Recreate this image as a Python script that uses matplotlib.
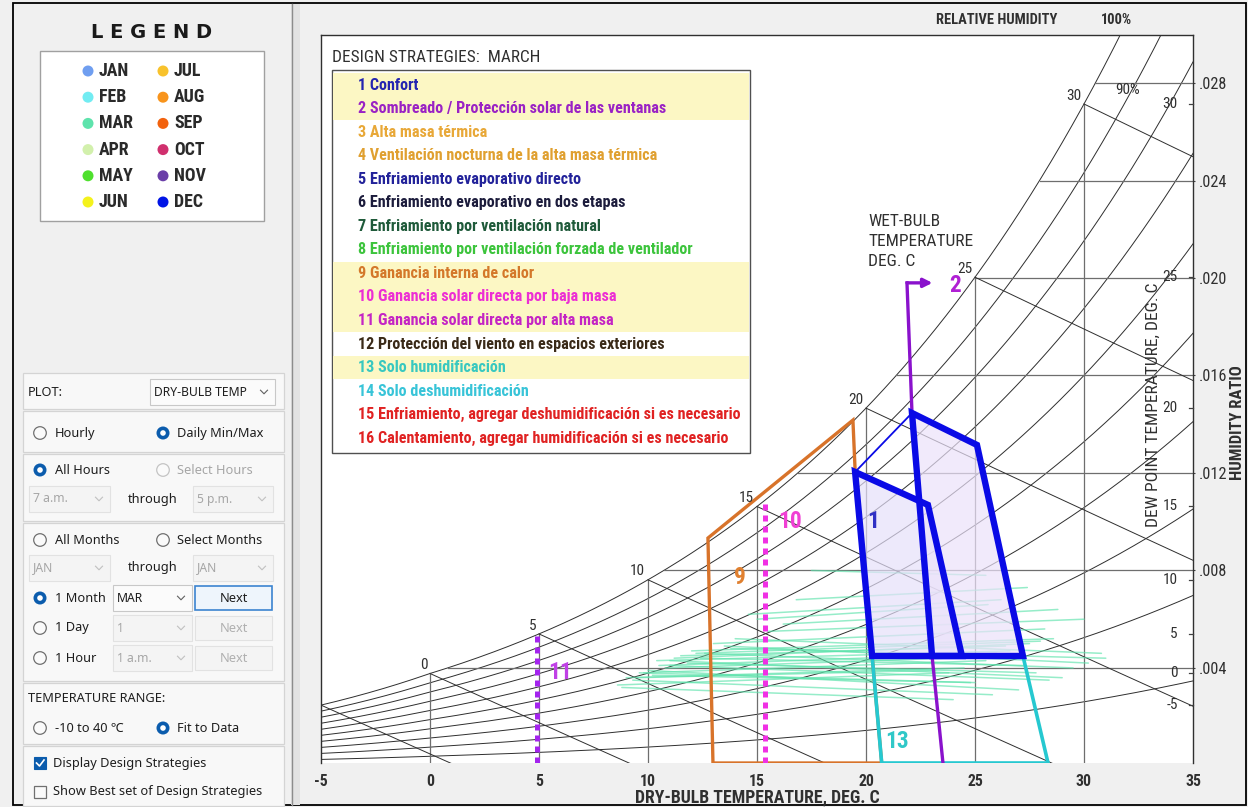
import numpy as np
import matplotlib
matplotlib.use('Agg')
import matplotlib.pyplot as plt
from matplotlib import font_manager
from matplotlib.patches import Rectangle, Circle

# ---------------- data ----------------
months = ['JAN', 'FEB', 'MAR', 'APR', 'MAY', 'JUN', 'JUL', 'AUG', 'SEP', 'OCT', 'NOV', 'DEC']
month_colors = ['#6f9ef0', '#72ecf2', '#5ee3ac', '#d2f0ac', '#4fe02e', '#f4f21c',
                '#f8c22c', '#f8941c', '#f2620e', '#d0306e', '#6a3ea8', '#0014e6']

temp_ticks = [-5, 0, 5, 10, 15, 20, 25, 30, 35]
w_ticks = [0.004, 0.008, 0.012, 0.016, 0.020, 0.024, 0.028]
w_tick_labels = ['.004', '.008', '.012', '.016', '.020', '.024', '.028']
rh_levels = [0.1, 0.2, 0.3, 0.4, 0.5, 0.6, 0.7, 0.8, 0.9, 1.0]
wb_levels = [-5, 0, 5, 10, 15, 20, 25, 30]
wb_labelled = [0, 5, 10, 15, 20, 25, 30]
dp_levels = [-5, 0, 5, 10, 15, 20, 25, 30]
db_grid = [0, 5, 10, 15, 20, 25, 30]

# March daily min / max points (dry bulb deg C, humidity ratio)
mar_tmin = [10.5, 11.2, 9.0, 8.6, 9.8, 12.0, 13.5, 11.0, 10.0, 9.3, 8.8, 10.8, 12.6, 14.0, 13.0,
            11.5, 10.2, 9.5, 11.8, 13.8, 15.5, 16.2, 14.6, 16.8, 17.5, 15.0, 12.4, 11.0, 9.6, 10.4, 12.2]
mar_tmax = [26.0, 27.5, 24.5, 23.8, 25.5, 28.6, 30.2, 29.0, 27.0, 25.8, 24.0, 26.8, 29.5, 30.8, 28.2,
            26.4, 25.0, 23.2, 27.8, 31.0, 30.0, 28.8, 26.2, 27.4, 25.5, 25.6, 27.2, 28.4, 24.8, 26.6, 28.0]
mar_wmin = [0.0041, 0.0044, 0.0036, 0.0033, 0.0038, 0.0047, 0.0049, 0.0043, 0.0039, 0.0035, 0.0032,
            0.0040, 0.0046, 0.0052, 0.0050, 0.0045, 0.0037, 0.0036, 0.0042, 0.0048, 0.0055, 0.0058,
            0.0062, 0.0068, 0.0080, 0.0060, 0.0044, 0.0041, 0.0038, 0.0043, 0.0046]
mar_wmax = [0.0046, 0.0050, 0.0040, 0.0038, 0.0043, 0.0052, 0.0042, 0.0036, 0.0031, 0.0029, 0.0027,
            0.0045, 0.0040, 0.0046, 0.0056, 0.0049, 0.0034, 0.0039, 0.0038, 0.0044, 0.0060, 0.0064,
            0.0068, 0.0073, 0.0078, 0.0066, 0.0041, 0.0035, 0.0034, 0.0047, 0.0051]

# design strategy zones (dry bulb deg C, humidity ratio)
comfort_a_t = [19.50, 22.84, 24.40, 20.28]
comfort_a_w = [0.01204, 0.01069, 0.00449, 0.00449]
comfort_b_t = [22.11, 25.09, 27.20, 23.03]
comfort_b_w = [0.01446, 0.01315, 0.00449, 0.00449]
humid_t = [20.28, 20.72, 28.35, 27.20]
humid_w = [0.00449, 0.0001, 0.0001, 0.00449]
heat_t = [12.98, 12.75, 19.40, 19.50, 20.28, 20.72]
heat_w = [0.0001, 0.00933, 0.01417, 0.01212, 0.00449, 0.0001]
shade_t = [23.53, 23.03, 22.11, 21.88]
shade_w = [0.0001, 0.00449, 0.01446, 0.0198]
shade_arrow_t = [21.88, 23.05]
solar_low_t = 15.37
solar_high_t = 4.9

strategy_names = [
    'Confort',
    'Sombreado / Protección solar de las ventanas',
    'Alta masa térmica',
    'Ventilación nocturna de la alta masa térmica',
    'Enfriamiento evaporativo directo',
    'Enfriamiento evaporativo en dos etapas',
    'Enfriamiento por ventilación natural',
    'Enfriamiento por ventilación forzada de ventilador',
    'Ganancia interna de calor',
    'Ganancia solar directa por baja masa',
    'Ganancia solar directa por alta masa',
    'Protección del viento en espacios exteriores',
    'Solo humidificación',
    'Solo deshumidificación',
    'Enfriamiento, agregar deshumidificación si es necesario',
    'Calentamiento, agregar humidificación si es necesario',
]
strategy_colors = ['#2525b0', '#9a22c4', '#e8a838', '#e0a030', '#22229a', '#1c1c3c',
                   '#1f5a3a', '#3cc43c', '#d4782a', '#ec2ed4', '#c424c4', '#3a2a18',
                   '#38c8c0', '#38c4d8', '#e02222', '#e02222']
strategy_active = [1, 2, 9, 10, 11, 13]

# ---------------- fonts ----------------
ttf = font_manager.fontManager.ttflist
names = {f.name for f in ttf}


def pick_narrow():
    for nm in ['Liberation Sans Narrow', 'Arial Narrow', 'Roboto Condensed', 'Open Sans Condensed',
               'DejaVu Sans Condensed', 'Noto Sans Condensed']:
        if nm in names:
            return nm, 'normal'
    for f in ttf:
        if f.name == 'DejaVu Sans' and 'condensed' in str(f.stretch).lower():
            return 'DejaVu Sans', 'condensed'
    for nm in ['Roboto', 'Liberation Sans', 'DejaVu Sans']:
        if nm in names:
            return nm, 'normal'
    return 'DejaVu Sans', 'normal'


NARROW, NSTRETCH = pick_narrow()
UIF = 'Noto Sans' if 'Noto Sans' in names else 'DejaVu Sans'

# ---------------- psychrometrics ----------------
P_ATM = 101325.0


def pws(t):
    t = np.asarray(t, float)
    water = 610.94 * np.exp(17.625 * t / (t + 243.04))
    ice = 611.15 * np.exp(22.452 * t / (272.55 + t))
    return np.where(t < 0, ice, water)


def w_rh(t, rh):
    p = rh * pws(t)
    return 0.621945 * p / (P_ATM - p)


def t_sat(w):
    ts = np.linspace(-10, 45, 6001)
    return np.interp(w, w_rh(ts, 1.0), ts)


def w_wb(t, twb):
    ws = w_rh(twb, 1.0)
    return ((2501 - 2.326 * twb) * ws - 1.006 * (t - twb)) / (2501 + 1.86 * t - 4.186 * twb)


# ---------------- figure ----------------
WPX, HPX = 1248, 807
fig = plt.figure(figsize=(WPX / 100, HPX / 100), dpi=100)
fig.patch.set_facecolor('#f0f0f0')
renderer = fig.canvas.get_renderer()


def fit(s, target, weight='normal', family=None, stretch=None, base=10.0):
    family = family or NARROW
    stretch = stretch or (NSTRETCH if family == NARROW else 'normal')
    t = fig.text(0, 0, s, fontsize=base, family=family, fontweight=weight, fontstretch=stretch)
    w = t.get_window_extent(renderer).width
    t.remove()
    return base * target / w


def NT(weight='normal', size=9.0, **kw):
    d = dict(family=NARROW, fontstretch=NSTRETCH, fontweight=weight, fontsize=size)
    d.update(kw)
    return d


S_STRAT = min(fit('2 Sombreado / Protección solar de las ventanas', 317, 'bold'),
              fit('15 Enfriamiento, agregar deshumidificación si es necesario', 385, 'bold'))
S_TICK = fit('10', 16, 'bold')
S_YTICK = fit('.028', 28)
S_SMALL = fit('30', 15)
S_XLAB = fit('DRY-BULB TEMPERATURE, DEG. C', 246)
S_RH = fit('RELATIVE HUMIDITY', 121, 'bold')
S_DP = fit('DEW POINT TEMPERATURE, DEG. C', 245)
S_HR = fit('HUMIDITY RATIO', 115, 'bold')
S_WB = fit('TEMPERATURE', 105)
S_DS = fit('DESIGN STRATEGIES:  MARCH', 208)
S_ZONE = fit('13', 24, 'bold')
S_MON = fit('JAN', 30, 'bold')
S_UI = fit('Show Best set of Design Strategies', 208, family=UIF)
S_LEG = fit('L E G E N D', 122, 'bold', family='DejaVu Sans')

ui = fig.add_axes([0, 0, 1, 1], zorder=0)
ui.set_xlim(0, WPX)
ui.set_ylim(HPX, 0)
ui.axis('off')

L, R, T, B = 321, 1193, 35, 763
ax = fig.add_axes([L / WPX, 1 - B / HPX, (R - L) / WPX, (B - T) / HPX], zorder=1)
ax.set_xlim(-5, 35)
ax.set_ylim(0.0001, 0.02997)
ax.set_facecolor('white')

fg = fig.add_axes([0, 0, 1, 1], zorder=2)
fg.set_xlim(0, WPX)
fg.set_ylim(HPX, 0)
fg.axis('off')
fg.patch.set_alpha(0)

# ---------- chart grid ----------
GRID = '#6e6e6e'
CURV = '#2e2e2e'
LBL = '#303030'
tt = np.linspace(-5, 35, 500)
for rh in rh_levels:
    ax.plot(tt, w_rh(tt, rh), color=CURV, lw=0.7, zorder=1)
for t0 in db_grid:
    ax.plot([t0, t0], [0, float(w_rh(t0, 1.0))], color=GRID, lw=0.9, zorder=1)
for w0 in w_ticks:
    ax.plot([float(t_sat(w0)), 35], [w0, w0], color=GRID, lw=0.9, zorder=1)
for twb in wb_levels:
    t = np.linspace(twb, 35, 400)
    w = w_wb(t, twb)
    ws = float(w_rh(twb, 1.0))
    tz = twb + (2501 - 2.326 * twb) * ws / 1.006
    m = w >= 0
    tl = list(t[m]) + ([tz] if tz < 35 else [])
    wl = list(w[m]) + ([0.0] if tz < 35 else [])
    ax.plot(tl, wl, color=CURV, lw=0.7, zorder=1)
    if twb in wb_labelled:
        ax.annotate(str(twb), (twb, ws), xytext=(-2, 1), textcoords='offset points',
                    ha='right', va='bottom', color=LBL, zorder=6, **NT(size=S_SMALL))

ax.text(32.0, 0.0277, '90%', color=LBL, ha='center', va='center', zorder=6, **NT(size=S_SMALL))

# dew point ticks on right spine
for td in dp_levels:
    wd = float(w_rh(td, 1.0))
    ax.plot([34.8, 35], [wd, wd], color='#404040', lw=0.9, zorder=6, clip_on=False)
    ax.text(34.3, wd, str(td), color=LBL, ha='right', va='center', zorder=6, **NT(size=S_SMALL))

# spines & ticks
ax.spines['bottom'].set_visible(False)
for s in ['left', 'top', 'right']:
    ax.spines[s].set_color('#303030')
    ax.spines[s].set_linewidth(1.0)
ax.set_xticks(temp_ticks)
ax.set_xticklabels([str(v) for v in temp_ticks], color=LBL, **NT('bold', S_TICK))
ax.tick_params(axis='x', length=0, pad=8)
ax.yaxis.tick_right()
ax.set_yticks(w_ticks)
ax.set_yticklabels(w_tick_labels, color=LBL, **NT(size=S_YTICK))
ax.tick_params(axis='y', length=1.5, pad=2.5, color='#404040')

# ---------- March data ----------
for a, b, c, d in zip(mar_tmin, mar_tmax, mar_wmin, mar_wmax):
    ax.plot([a, b], [c, d], color=month_colors[2], lw=1.1, alpha=0.65, zorder=2,
            solid_capstyle='round')

# ---------- design strategies ----------
BLUE = '#0a0ae6'
ax.fill(comfort_a_t, comfort_a_w, color='#e6e0fa', alpha=0.7, lw=0, zorder=3)
ax.fill(comfort_b_t, comfort_b_w, color='#ece2fa', alpha=0.7, lw=0, zorder=3)

ax.fill(heat_t, heat_w, fill=False, edgecolor='#d8732a', lw=2.4, zorder=4, joinstyle='miter')
ax.plot([solar_low_t, solar_low_t], [0.0001, float(w_rh(solar_low_t, 1.0))], color='#f030e4',
        lw=3.6, ls=(0, (1.2, 1.0)), dash_capstyle='butt', zorder=4)
ax.plot([solar_high_t, solar_high_t], [0.0001, float(w_rh(solar_high_t, 1.0))], color='#a424ee',
        lw=3.6, ls=(0, (1.2, 1.0)), dash_capstyle='butt', zorder=4)
ax.fill(humid_t, humid_w, fill=False, edgecolor='#26c8d0', lw=2.6, zorder=4)
ax.plot(shade_t, shade_w, color='#8a12cc', lw=2.4, zorder=4.5)
ax.annotate('', xy=(shade_arrow_t[1], shade_w[-1]), xytext=(shade_arrow_t[0], shade_w[-1]),
            arrowprops=dict(arrowstyle='-|>', color='#8a12cc', lw=2.4, mutation_scale=13,
                            shrinkA=0, shrinkB=0), zorder=4.5)

ax.plot([comfort_a_t[0], comfort_b_t[0]], [comfort_a_w[0], comfort_b_w[0]], color=BLUE, lw=1.3, zorder=5)
ax.fill(comfort_a_t, comfort_a_w, fill=False, edgecolor=BLUE, lw=4.6, zorder=5, joinstyle='miter')
ax.fill(comfort_b_t, comfort_b_w, fill=False, edgecolor=BLUE, lw=4.6, zorder=5, joinstyle='miter')

zone_labels = [('1', 20.32, 0.0100, '#3030c4'), ('2', 24.1, 0.0197, '#b020d4'),
               ('9', 14.22, 0.0077, '#e08030'), ('10', 16.51, 0.0100, '#f040d4'),
               ('11', 5.96, 0.0038, '#c040e6'), ('13', 21.42, 0.00097, '#30c8c8')]
for s, x, y, c in zone_labels:
    ax.text(x, y, s, color=c, ha='center', va='center', zorder=6, **NT('bold', S_ZONE))

# ---------- chart texts (figure pixels) ----------
fg.text(997, 20, 'RELATIVE HUMIDITY', color=LBL, ha='center', va='center', **NT('bold', S_RH))
fg.text(1117, 20, '100%', color=LBL, ha='center', va='center', **NT('bold', S_RH))
for i, s in enumerate(['WET-BULB', 'TEMPERATURE', 'DEG. C']):
    fg.text(868, 222 + i * 20, s, color=LBL, ha='left', va='center', **NT(size=S_WB))
fg.text(757, 797, 'DRY-BULB TEMPERATURE, DEG. C', color=LBL, ha='center', va='center',
        **NT('bold', S_XLAB * 0.97))
fg.text(1153, 405, 'DEW POINT TEMPERATURE, DEG. C', color=LBL, ha='center', va='center',
        rotation=90, **NT(size=S_DP))
fg.text(1237, 423, 'HUMIDITY RATIO', color=LBL, ha='center', va='center', rotation=90,
        **NT('bold', S_HR))

# design strategies box
fg.text(332, 57, 'DESIGN STRATEGIES:  MARCH', color=LBL, ha='left', va='center', **NT(size=S_DS))
fg.add_patch(Rectangle((332, 70), 418, 383, fc='white', ec='#505050', lw=1.0))
row0, rowh = 85, 23.55
for i, (name, col) in enumerate(zip(strategy_names, strategy_colors), start=1):
    yc = row0 + (i - 1) * rowh
    if i in strategy_active:
        fg.add_patch(Rectangle((333, yc - rowh / 2), 416, rowh, fc='#fcf7c4', ec='none'))
    fg.text(358, yc, f'{i} {name}', color=col, ha='left', va='center', **NT('bold', S_STRAT))

# ---------- left UI panel ----------
ui.add_patch(Rectangle((13, 3), 1233, 802, fc='none', ec='black', lw=1.3))
ui.add_patch(Rectangle((291, 4), 9, 801, fc='#e2e2e2', ec='none'))
ui.plot([292, 292], [4, 805], color='#8c8c8c', lw=1.0)

ui.text(152, 33, 'L E G E N D', family='DejaVu Sans', fontsize=S_LEG, fontweight='bold',
        color='#1a1a1a', ha='center', va='center')
ui.add_patch(Rectangle((40, 51), 224, 170, fc='white', ec='#a0a0a0', lw=1.0))
for k, (m, c) in enumerate(zip(months, month_colors)):
    col, row = divmod(k, 6)
    x0 = 88 + col * 75
    y0 = 71 + row * 26.2
    ui.add_patch(Circle((x0, y0), 5.5, fc=c, ec='none'))
    ui.text(x0 + 11, y0, m, color='#2a2a2a', ha='left', va='center', **NT('bold', S_MON))


def txt(x, y, s, enabled=True, size=None):
    ui.text(x, y, s, family=[UIF, 'DejaVu Sans'], fontsize=size or S_UI,
            color='#1e1e1e' if enabled else '#a6a6a6', ha='left', va='center')


def radio(x, y, on, enabled=True):
    if on:
        ui.add_patch(Circle((x, y), 6.5, fc='#0b5cad', ec='none'))
        ui.add_patch(Circle((x, y), 2.8, fc='white', ec='none'))
    else:
        ui.add_patch(Circle((x, y), 6.3, fc='#fafafa', ec='#707070' if enabled else '#c4c4c4', lw=0.9))


def chevron(x, y, enabled=True):
    ui.plot([x - 3.5, x, x + 3.5], [y - 1.8, y + 1.8, y - 1.8], color='#606060' if enabled else '#c0c0c0',
            lw=0.8)


def dropdown(x0, x1, y, s, enabled=True):
    ui.add_patch(Rectangle((x0, y - 13), x1 - x0, 26, fc='#fbfbfb' if enabled else '#f4f4f4',
                           ec='#c8c8c8' if enabled else '#e2e2e2', lw=0.8))
    txt(x0 + 4, y, s, enabled, size=S_UI * 0.95)
    chevron(x1 - 11, y, enabled)


def button(x0, x1, y, s, enabled=True):
    ui.add_patch(Rectangle((x0, y - 12), x1 - x0, 24, fc='#eef5fc' if enabled else '#f4f4f4',
                           ec='#3c84d0' if enabled else '#e2e2e2', lw=1.2 if enabled else 0.8))
    ui.text((x0 + x1) / 2, y, s, family=UIF, fontsize=S_UI, color='#1e1e1e' if enabled else '#b0b0b0',
            ha='center', va='center')


for y0, y1 in [(373, 409), (411, 452), (454, 521), (523, 681), (683, 744), (746, 806)]:
    ui.add_patch(Rectangle((23, y0), 261, y1 - y0, fc='#f8f8f8', ec='#d4d4d4', lw=0.9))

txt(28, 392, 'PLOT:')
dropdown(150, 275, 392, 'DRY-BULB TEMP')
radio(40, 433, False); txt(55, 433, 'Hourly')
radio(163, 433, True); txt(177, 433, 'Daily Min/Max')
radio(40, 470, True); txt(55, 470, 'All Hours')
radio(163, 470, False, False); txt(177, 470, 'Select Hours', False)
dropdown(29, 110, 499, '7 a.m.', False); txt(128, 499, 'through'); dropdown(193, 273, 499, '5 p.m.', False)
radio(40, 540, False); txt(55, 540, 'All Months')
radio(163, 540, False); txt(177, 540, 'Select Months')
dropdown(29, 110, 568, 'JAN', False); txt(128, 568, 'through'); dropdown(193, 273, 568, 'JAN', False)
radio(40, 598, True); txt(55, 598, '1 Month')
dropdown(113, 192, 598, 'MAR'); button(195, 272, 598, 'Next')
radio(40, 628, False); txt(55, 628, '1 Day')
dropdown(113, 192, 628, '1', False); button(195, 272, 628, 'Next', False)
radio(40, 658, False); txt(55, 658, '1 Hour')
dropdown(113, 192, 658, '1 a.m.', False); button(195, 272, 658, 'Next', False)
txt(28, 699, 'TEMPERATURE RANGE:')
radio(40, 728, False); txt(55, 728, '-10 to 40 ℃')
radio(163, 728, True); txt(177, 728, 'Fit to Data')
ui.add_patch(Rectangle((34, 757), 12, 12, fc='#0b5cad', ec='#0b5cad', lw=0.8))
ui.plot([36.5, 39.5, 44], [763, 766, 760], color='white', lw=1.2)
txt(53, 763, 'Display Design Strategies')
ui.add_patch(Rectangle((34, 786), 12, 12, fc='#fafafa', ec='#707070', lw=0.9))
txt(53, 792, 'Show Best set of Design Strategies')

fig.savefig('out.png', dpi=100, facecolor=fig.get_facecolor())
